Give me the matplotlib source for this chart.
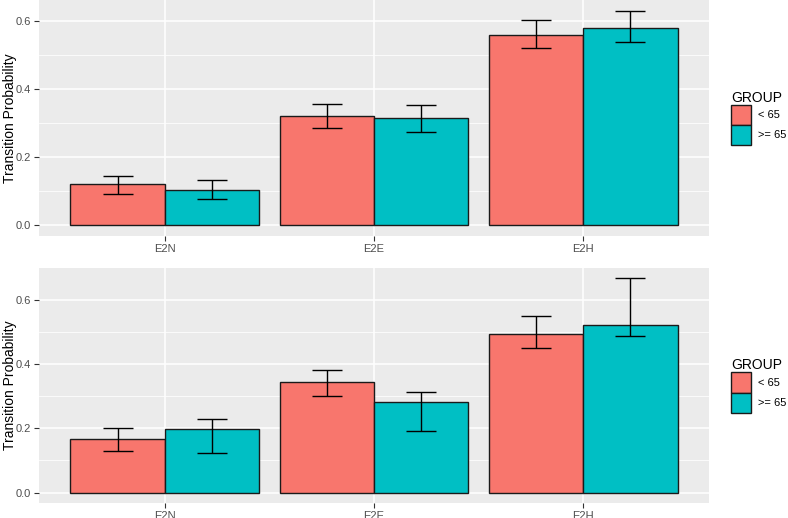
import numpy as np
import matplotlib.pyplot as plt
from matplotlib.patches import Patch

plt.rcParams['font.family'] = ['Liberation Sans', 'DejaVu Sans']

categories = ['E2N', 'E2E', 'E2H']
groups = ['< 65', '>= 65']
colors = ['#F8766D', '#00BFC4']

# top panel
top_vals = [[0.120, 0.321, 0.561], [0.103, 0.316, 0.580]]
top_lo = [[0.093, 0.286, 0.520], [0.077, 0.274, 0.539]]
top_hi = [[0.145, 0.356, 0.604], [0.133, 0.354, 0.631]]

# bottom panel
bot_vals = [[0.166, 0.344, 0.494], [0.199, 0.282, 0.522]]
bot_lo = [[0.128, 0.301, 0.449], [0.123, 0.191, 0.486]]
bot_hi = [[0.201, 0.382, 0.549], [0.230, 0.313, 0.666]]

fig = plt.figure(figsize=(7.88, 5.18), dpi=100)
ax1 = fig.add_axes([39 / 788, 1 - 236 / 518, 670 / 788, 236 / 518])
ax2 = fig.add_axes([39 / 788, 1 - 503.3 / 518, 670 / 788, 235.6 / 518])


def draw(ax, vals, lo, hi):
    x = np.arange(1, len(categories) + 1)
    w = 0.45
    ax.set_facecolor('#EBEBEB')
    for s in ax.spines.values():
        s.set_visible(False)
    ymax = max(max(h) for h in hi)
    pad = ymax * 0.05
    ax.set_ylim(-pad, ymax + pad)
    ax.set_xlim(0.4, 3.6)
    ax.set_yticks([0, 0.2, 0.4, 0.6])
    ax.set_yticklabels(['0.0', '0.2', '0.4', '0.6'])
    ax.set_yticks([0.1, 0.3, 0.5], minor=True)
    ax.set_xticks(x)
    ax.set_xticklabels(categories)
    ax.grid(True, which='major', color='white', lw=1.1)
    ax.grid(True, which='minor', axis='y', color='white', lw=0.55)
    ax.set_axisbelow(True)
    ax.tick_params(which='major', length=3.5, width=0.8, color='#333333',
                   labelcolor='#4D4D4D', labelsize=8, pad=2)
    ax.tick_params(which='minor', length=0)
    for i in range(2):
        xs = x + (i - 0.5) * w
        ax.bar(xs, vals[i], width=w, color=colors[i], edgecolor='#1a1a1a',
               lw=1.0, zorder=2)
        v = np.array(vals[i])
        yerr = [v - np.array(lo[i]), np.array(hi[i]) - v]
        ax.errorbar(xs, v, yerr=yerr, fmt='none', ecolor='black', elinewidth=1.0,
                    capsize=10.5, capthick=1.0, zorder=3)
    ax.set_ylabel('Transition Probability', fontsize=10)
    ax.yaxis.set_label_coords(-22 / 670, 0.5)
    handles = [Patch(facecolor=colors[i], edgecolor='#1a1a1a', lw=1.0) for i in range(2)]
    ax.legend(handles, groups, title='GROUP', loc='center left',
              bbox_to_anchor=(1 + 22 / 670, 0.5), frameon=False, fontsize=8,
              title_fontsize=10, handlelength=1.8, handleheight=2.4,
              handletextpad=0.6, labelspacing=0.0, alignment='left',
              borderaxespad=0, borderpad=0)


draw(ax1, top_vals, top_lo, top_hi)
draw(ax2, bot_vals, bot_lo, bot_hi)

fig.savefig('out.png', dpi=100)
